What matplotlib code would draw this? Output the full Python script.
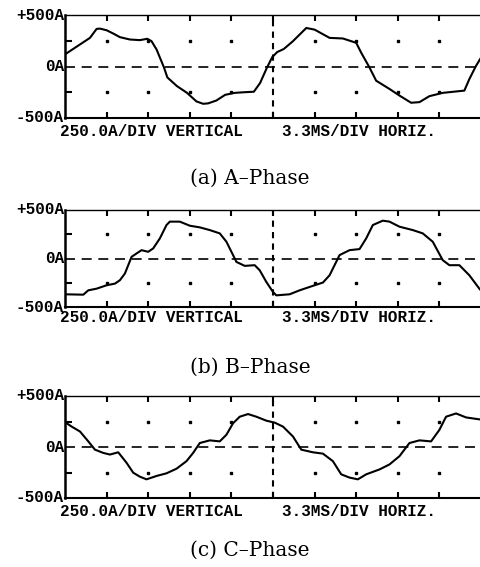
import matplotlib
matplotlib.use("Agg")
import matplotlib.pyplot as plt

# time axis in divisions (3.3 ms/div), current in A
div_a = [0, 0.36, 0.6, 0.76, 0.84, 1.0, 1.16, 1.32, 1.56, 1.8, 1.98, 2.08, 2.2, 2.38, 2.46, 2.69, 2.93, 3.16, 3.32, 3.44, 3.64, 3.85, 4.08, 4.3, 4.54, 4.69, 4.85, 4.98, 5.1, 5.26, 5.48, 5.8, 6.0, 6.36, 6.68, 7.0, 7.12, 7.32, 7.48, 7.8, 8.04, 8.32, 8.52, 8.76, 9.08, 9.6, 9.72, 9.88, 10.0]
amp_a = [118, 214, 278, 365, 368, 352, 320, 285, 262, 256, 269, 246, 166, -10, -106, -190, -255, -339, -362, -358, -330, -275, -256, -250, -245, -160, -15, 90, 140, 170, 246, 374, 358, 278, 272, 230, 134, -10, -138, -218, -282, -352, -346, -288, -256, -234, -122, 6, 86]

div_b = [0, 0.44, 0.56, 0.76, 1.0, 1.2, 1.32, 1.44, 1.6, 1.72, 1.84, 2.0, 2.12, 2.28, 2.44, 2.52, 2.76, 3.0, 3.24, 3.48, 3.72, 3.88, 4.04, 4.12, 4.32, 4.56, 4.68, 4.84, 5.0, 5.08, 5.4, 5.64, 6.0, 6.2, 6.36, 6.6, 6.84, 7.08, 7.24, 7.4, 7.64, 7.8, 8.04, 8.36, 8.6, 8.84, 9.08, 9.24, 9.48, 9.72, 9.96, 10.0]
amp_b = [-369, -373, -328, -311, -276, -259, -224, -155, 17, 52, 86, 69, 104, 207, 345, 380, 380, 338, 321, 293, 259, 173, 35, -35, -76, -69, -121, -242, -345, -380, -369, -328, -276, -248, -173, 35, 86, 97, 207, 345, 390, 380, 328, 293, 259, 173, -17, -69, -69, -173, -311, -330]

div_c = [0, 0.04, 0.16, 0.36, 0.56, 0.72, 0.92, 1.08, 1.28, 1.48, 1.64, 1.8, 1.96, 2.2, 2.44, 2.68, 2.92, 3.08, 3.24, 3.48, 3.72, 3.88, 4.04, 4.2, 4.4, 4.6, 4.84, 5.04, 5.24, 5.48, 5.68, 5.96, 6.2, 6.44, 6.64, 6.84, 7.04, 7.24, 7.56, 7.8, 8.04, 8.28, 8.52, 8.8, 9.0, 9.16, 9.4, 9.64, 9.96, 10.0]
amp_c = [240, 233, 200, 152, 55, -26, -58, -74, -52, -155, -252, -291, -317, -284, -258, -213, -139, -58, 39, 65, 55, 120, 233, 297, 323, 297, 258, 239, 200, 103, -26, -52, -65, -139, -268, -300, -317, -268, -220, -171, -90, 39, 65, 55, 168, 297, 329, 290, 271, 270]

captions = ["(a) A\u2013Phase", "(b) B\u2013Phase", "(c) C\u2013Phase"]
ylabels = ["+500A", "0A", "-500A"]
scale_left = "250.0A/DIV VERTICAL"
scale_right = "3.3MS/DIV HORIZ."

W, H = 481, 567
fig = plt.figure(figsize=(W / 100, H / 100), dpi=100)

panels = [
    (div_a, amp_a, 15, 118, 131, 178),
    (div_b, amp_b, 210, 307, 318, 367),
    (div_c, amp_c, 396, 498, 511, 550),
]
mono = dict(family="Liberation Mono", weight="bold", fontsize=11.5)

for (xs, ys, top, bot, lab_y, cap_y), cap in zip(panels, captions):
    ax = fig.add_axes([65 / W, 1 - bot / H, 416 / W, (bot - top) / H])
    ax.set_xlim(0, 10)
    ax.set_ylim(-500, 500)
    ax.spines["right"].set_visible(False)
    ax.spines["left"].set_linewidth(1.8)
    ax.spines["bottom"].set_linewidth(1.5)
    ax.spines["top"].set_linewidth(1.0)
    ax.set_xticks(range(1, 10))
    ax.set_yticks([-250, 250])
    ax.tick_params(axis="x", direction="in", top=True, bottom=True, length=4, width=1.5,
                   labelbottom=False)
    ax.tick_params(axis="y", direction="in", left=True, length=5, width=1.5, labelleft=False)
    ax.axhline(0, color="black", lw=1.2, dashes=(6, 4))
    ax.axvline(5, color="black", lw=1.5, dashes=(3, 2.5))
    gx = [k for k in range(1, 10) if k != 5]
    ax.plot(gx * 2, [250] * len(gx) + [-250] * len(gx), "s", ms=2.0, color="black", ls="none")
    ax.plot(xs, ys, color="black", lw=1.5, solid_joinstyle="round")

    for lbl, yy in zip(ylabels, [top, (top + bot) / 2, bot]):
        fig.text(64 / W, 1 - yy / H, lbl, ha="right", va="center", **mono)
    fig.text(60 / W, 1 - lab_y / H, scale_left, ha="left", va="center", **mono)
    fig.text(282 / W, 1 - lab_y / H, scale_right, ha="left", va="center", **mono)
    fig.text(250 / W, 1 - cap_y / H, cap, ha="center", va="center",
             family="DejaVu Serif", fontsize=14.5)

fig.savefig("out.png", dpi=100)
